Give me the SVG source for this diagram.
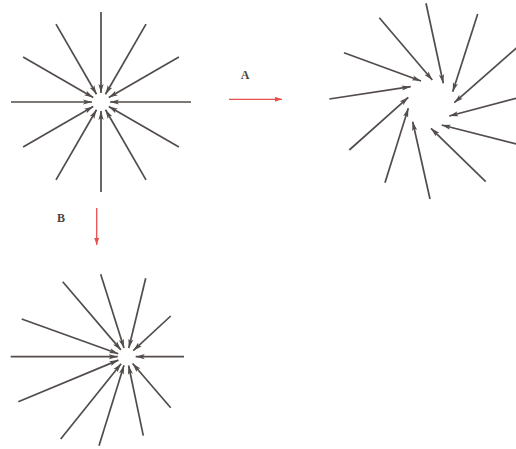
<svg xmlns="http://www.w3.org/2000/svg" width="516" height="449" viewBox="0 0 516 449">
<defs>
<marker id="ah" markerUnits="userSpaceOnUse" markerWidth="10" markerHeight="6" refX="9" refY="3" orient="auto">
<path d="M0,0.4 L9,3 L0,5.6 L2,3 z" fill="#524c4a"/>
</marker>
<marker id="ahr" markerUnits="userSpaceOnUse" markerWidth="8" markerHeight="6" refX="7" refY="2.5" orient="auto">
<path d="M0,0 L7,2.5 L0,5 z" fill="#e8504e"/>
</marker>
</defs>
<style>
.s line{stroke:#524c4a;stroke-width:1.7;marker-end:url(#ah);fill:none}
.r{stroke:#e8504e;stroke-width:1.3;marker-end:url(#ahr)}
.lbl{font-family:"Liberation Serif",serif;font-weight:bold;font-size:12px;fill:#4a4543}
</style>
<g id="star1" class="s">
<line x1="191" y1="102" x2="110" y2="102"/>
<line x1="178.9" y1="147" x2="108.8" y2="106.5"/>
<line x1="146" y1="179.9" x2="105.5" y2="109.8"/>
<line x1="101" y1="192" x2="101" y2="111"/>
<line x1="56" y1="179.9" x2="96.5" y2="109.8"/>
<line x1="23.1" y1="147" x2="93.2" y2="106.5"/>
<line x1="11" y1="102" x2="92" y2="102"/>
<line x1="23.1" y1="57" x2="93.2" y2="97.5"/>
<line x1="56" y1="24.1" x2="96.5" y2="94.2"/>
<line x1="101" y1="12" x2="101" y2="93"/>
<line x1="146" y1="24.1" x2="105.5" y2="94.2"/>
<line x1="178.9" y1="57" x2="108.8" y2="97.5"/>
</g>
<g id="star2" class="s">
<line x1="329.3" y1="99" x2="410.7" y2="86.7"/>
<line x1="344" y1="52.7" x2="421" y2="81"/>
<line x1="379.3" y1="17.7" x2="432.3" y2="80"/>
<line x1="426" y1="3.3" x2="443.3" y2="83.3"/>
<line x1="477.7" y1="14" x2="452.7" y2="91.7"/>
<line x1="520" y1="44.8" x2="454.3" y2="102.7"/>
<line x1="520" y1="97.2" x2="449.3" y2="116"/>
<line x1="520" y1="145" x2="441.7" y2="125"/>
<line x1="485.7" y1="181.7" x2="431" y2="128.3"/>
<line x1="430" y1="199" x2="412.7" y2="121.7"/>
<line x1="385" y1="182.7" x2="408.3" y2="108.3"/>
<line x1="349.3" y1="150" x2="408.3" y2="97.3"/>
</g>
<g id="star3" class="s">
<line x1="10.7" y1="356.7" x2="117.7" y2="356.7"/>
<line x1="184" y1="356.7" x2="135.7" y2="356.7"/>
<line x1="62.7" y1="281.7" x2="120.9" y2="349.9"/>
<line x1="100.7" y1="274.3" x2="124" y2="348.1"/>
<line x1="145.7" y1="278.3" x2="128.8" y2="348"/>
<line x1="170.7" y1="316" x2="133.3" y2="350.6"/>
<line x1="21.7" y1="319" x2="118.2" y2="353.7"/>
<line x1="18.3" y1="401.7" x2="118.4" y2="360.1"/>
<line x1="60.7" y1="439" x2="121.1" y2="363.7"/>
<line x1="99" y1="445.7" x2="124" y2="365.3"/>
<line x1="143.3" y1="435.7" x2="128.6" y2="365.5"/>
<line x1="170.7" y1="407.7" x2="132.6" y2="363.5"/>
</g>
<g id="connectors">
<line class="r" x1="229" y1="99.3" x2="282" y2="99.3"/>
<line class="r" x1="96.7" y1="208" x2="96.7" y2="245"/>
</g>
<g id="labelA"><text class="lbl" x="245" y="79" text-anchor="middle">A</text></g>
<g id="labelB"><text class="lbl" x="61" y="222" text-anchor="middle">B</text></g>
</svg>
